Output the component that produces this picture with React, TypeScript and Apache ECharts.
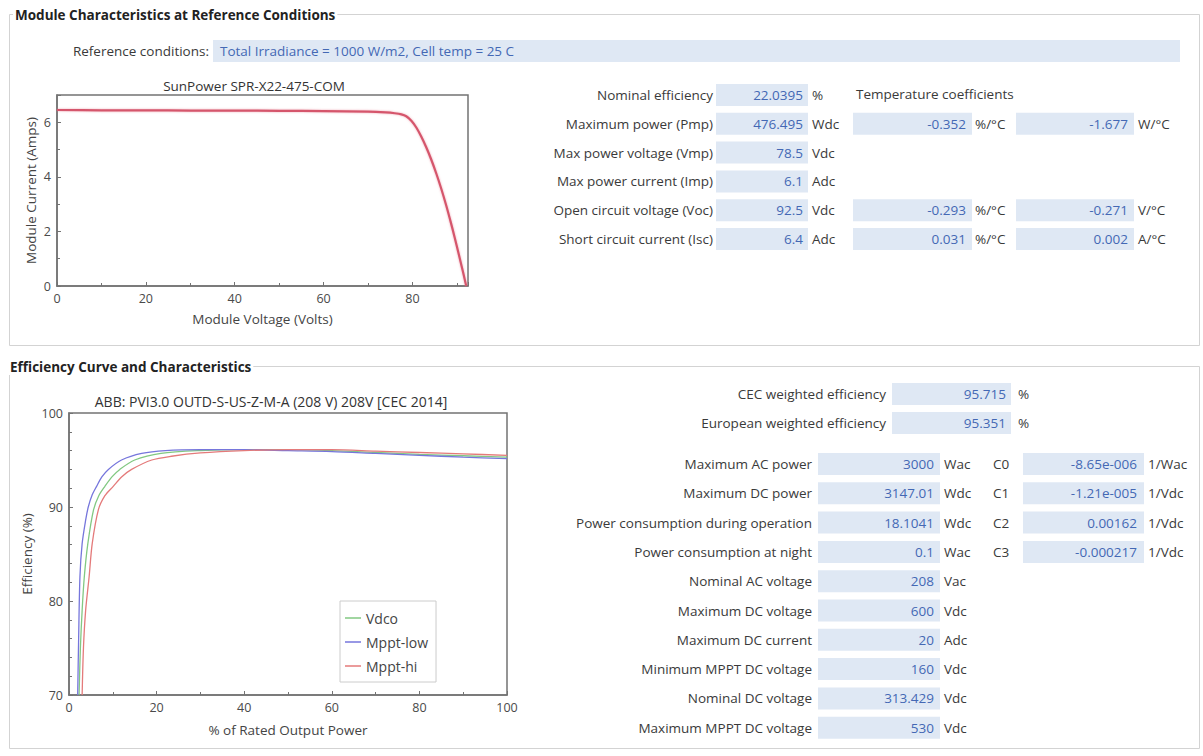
import React, { useEffect, useRef } from "react";
import * as echarts from "echarts";

// ---------- data ----------
const IV_VOLTAGE = [0, 10, 20, 30, 40, 50, 60, 70, 74, 76, 77.5, 78.6, 79.8, 80.9, 82, 83.1, 84.2, 85.4, 86.5, 87.6, 88.6, 89.5, 90.3, 91, 91.6, 92.1];
const IV_CURRENT = [6.45, 6.44, 6.44, 6.43, 6.43, 6.42, 6.41, 6.39, 6.36, 6.33, 6.29, 6.22, 6.05, 5.8, 5.47, 5.085, 4.645, 4.105, 3.555, 2.95, 2.35, 1.78, 1.25, 0.77, 0.36, 0];

const VDCO_X = [2.3, 2.6, 3.0, 3.5, 4.3, 5.6, 6.8, 8.2, 9.8, 11.6, 15, 21, 30, 40, 50, 60, 70, 80, 90, 100];
const VDCO_Y = [70, 75, 79, 82.6, 86.1, 89.7, 91.2, 92.2, 93.2, 94, 95, 95.7, 96.0, 96.1, 96.1, 96.0, 95.8, 95.6, 95.45, 95.3];
const MPPT_LOW_X = [1.98, 2.2, 2.5, 3.0, 3.8, 4.4, 5.3, 6.3, 7.5, 9, 12, 16.6, 22, 30, 40, 50, 60, 70, 80, 90, 100];
const MPPT_LOW_Y = [70, 76, 82.6, 86.1, 88.6, 90, 91.3, 92.2, 93.2, 94, 95, 95.7, 96.0, 96.1, 96.1, 96.0, 95.9, 95.7, 95.5, 95.3, 95.15];
const MPPT_HI_X = [3.0, 3.3, 3.8, 4.6, 5.3, 6.7, 8.2, 10.1, 12, 14.3, 18.9, 23.4, 30, 40, 50, 60, 70, 80, 90, 100];
const MPPT_HI_Y = [70, 75, 79, 82.6, 86.1, 89.7, 91.2, 92.2, 93.2, 94, 95, 95.4, 95.75, 96.0, 96.1, 96.1, 95.95, 95.8, 95.65, 95.5];

const LEGEND_NAMES = ["Vdco", "Mppt-low", "Mppt-hi"];

const MODULE_TITLE = "SunPower SPR-X22-475-COM";
const INVERTER_TITLE = "ABB: PVI3.0 OUTD-S-US-Z-M-A (208 V) 208V [CEC 2014]";

const TOP_LABELS = [
  "Nominal efficiency",
  "Maximum power (Pmp)",
  "Max power voltage (Vmp)",
  "Max power current (Imp)",
  "Open circuit voltage (Voc)",
  "Short circuit current (Isc)",
];
const TOP_VALUES = ["22.0395", "476.495", "78.5", "6.1", "92.5", "6.4"];
const TOP_UNITS = ["%", "Wdc", "Vdc", "Adc", "Vdc", "Adc"];
const TEMP_PCT = ["", "-0.352", "", "", "-0.293", "0.031"];
const TEMP_ABS = ["", "-1.677", "", "", "-0.271", "0.002"];
const TEMP_ABS_UNITS = ["", "W/°C", "", "", "V/°C", "A/°C"];

const WEIGHTED_LABELS = ["CEC weighted efficiency", "European weighted efficiency"];
const WEIGHTED_VALUES = ["95.715", "95.351"];

const INV_LABELS = [
  "Maximum AC power",
  "Maximum DC power",
  "Power consumption during operation",
  "Power consumption at night",
  "Nominal AC voltage",
  "Maximum DC voltage",
  "Maximum DC current",
  "Minimum MPPT DC voltage",
  "Nominal DC voltage",
  "Maximum MPPT DC voltage",
];
const INV_VALUES = ["3000", "3147.01", "18.1041", "0.1", "208", "600", "20", "160", "313.429", "530"];
const INV_UNITS = ["Wac", "Wdc", "Wdc", "Wac", "Vac", "Vdc", "Adc", "Vdc", "Vdc", "Vdc"];
const COEF_LABELS = ["C0", "C1", "C2", "C3"];
const COEF_VALUES = ["-8.65e-006", "-1.21e-005", "0.00162", "-0.000217"];
const COEF_UNITS = ["1/Wac", "1/Vdc", "1/Vdc", "1/Vdc"];

// ---------- styles ----------
const FONT = '"Open Sans", "Noto Sans", sans-serif';
const FS = 13.5;
const LABEL_COLOR = "#3a3a3a";
const VALUE_COLOR = "#4468b4";
const BOX_FILL = "#dfe8f4";
const BORDER = "#d3d3d3";
const AXIS = "#737373";

const zip = (xs: number[], ys: number[]) => xs.map((x, i) => [x, ys[i]]);

function txt(x: number, y: number, text: string, opt: any = {}) {
  const align = opt.align || "left";
  return {
    type: "text",
    x,
    y,
    silent: true,
    z: 10,
    style: {
      text,
      fill: opt.color || LABEL_COLOR,
      font: opt.font || `${FS}px ${FONT}`,
      align,
      textAlign: align,
      verticalAlign: "middle",
      textVerticalAlign: "middle",
      backgroundColor: opt.bg,
      padding: opt.padding,
    },
  };
}
function box(x: number, y: number, w: number, h: number) {
  return { type: "rect", silent: true, z: 5, shape: { x, y: y - h / 2, width: w, height: h }, style: { fill: BOX_FILL } };
}
function rectBorder(x: number, y: number, w: number, h: number) {
  return { type: "rect", silent: true, z: 1, shape: { x, y, width: w, height: h }, style: { fill: "none", stroke: BORDER, lineWidth: 1 } };
}

function buildGraphics() {
  const boxes: any[] = [];
  const texts: any[] = [];
  // group boxes
  boxes.push(rectBorder(9.5, 14.5, 1190, 331));
  texts.push(txt(13, 15, "Module Characteristics at Reference Conditions", { font: `bold ${FS}px ${FONT}`, color: "#222", bg: "#fff", padding: [1, 2] }));
  boxes.push(rectBorder(9.5, 366.5, 1190, 382));
  texts.push(txt(8, 367, "Efficiency Curve and Characteristics", { font: `bold ${FS}px ${FONT}`, color: "#222", bg: "#fff", padding: [1, 2] }));

  // reference conditions
  texts.push(txt(209, 51, "Reference conditions:", { align: "right" }));
  boxes.push(box(213, 51, 967, 22));
  texts.push(txt(220, 51, "Total Irradiance = 1000 W/m2, Cell temp = 25 C", { color: VALUE_COLOR }));

  // top table
  TOP_LABELS.forEach((label, i) => {
    const y = 95 + i * 28.8;
    texts.push(txt(713, y, label, { align: "right" }));
    boxes.push(box(716, y, 92, 22));
    texts.push(txt(803, y, TOP_VALUES[i], { align: "right", color: VALUE_COLOR }));
    texts.push(txt(812, y, TOP_UNITS[i]));
    if (TEMP_PCT[i]) {
      boxes.push(box(853, y, 119, 22));
      texts.push(txt(966, y, TEMP_PCT[i], { align: "right", color: VALUE_COLOR }));
      texts.push(txt(975, y, "%/°C"));
      boxes.push(box(1016, y, 118, 22));
      texts.push(txt(1128, y, TEMP_ABS[i], { align: "right", color: VALUE_COLOR }));
      texts.push(txt(1138, y, TEMP_ABS_UNITS[i]));
    }
  });
  texts.push(txt(856, 94, "Temperature coefficients"));

  // weighted efficiencies
  WEIGHTED_LABELS.forEach((label, i) => {
    const y = 394 + i * 29;
    texts.push(txt(886, y, label, { align: "right" }));
    boxes.push(box(892, y, 119, 22));
    texts.push(txt(1006, y, WEIGHTED_VALUES[i], { align: "right", color: VALUE_COLOR }));
    texts.push(txt(1018, y, "%"));
  });

  // inverter table
  INV_LABELS.forEach((label, i) => {
    const y = 464 + i * 29.3;
    texts.push(txt(812, y, label, { align: "right" }));
    boxes.push(box(818, y, 122, 22));
    texts.push(txt(934, y, INV_VALUES[i], { align: "right", color: VALUE_COLOR }));
    texts.push(txt(944, y, INV_UNITS[i]));
    if (i < COEF_LABELS.length) {
      texts.push(txt(993, y, COEF_LABELS[i]));
      boxes.push(box(1023, y, 121, 22));
      texts.push(txt(1137, y, COEF_VALUES[i], { align: "right", color: VALUE_COLOR }));
      texts.push(txt(1148, y, COEF_UNITS[i]));
    }
  });
  return [...boxes, ...texts];
}

const axisCommon = {
  axisLine: { show: true, lineStyle: { color: AXIS, width: 1.5 } },
  axisTick: { show: true, inside: true, length: 4, lineStyle: { color: AXIS } },
  splitLine: { show: false },
  axisLabel: { color: "#4a4a4a", fontSize: 12.5, fontFamily: FONT, margin: 6 },
  nameTextStyle: { color: "#444", fontSize: FS, fontFamily: FONT },
  nameLocation: "middle",
};

export default function App() {
  const ref = useRef<HTMLDivElement>(null);
  useEffect(() => {
    if (!ref.current) return;
    const chart = echarts.init(ref.current, undefined, { renderer: "svg" });
    const option: any = {
      animation: false,
      backgroundColor: "#fff",
      title: [
        { text: MODULE_TITLE, left: 249, top: 74, textAlign: "center", textStyle: { fontSize: FS, fontWeight: "normal", color: "#333", fontFamily: FONT } },
        { text: INVERTER_TITLE, left: 266, top: 389, textAlign: "center", textStyle: { fontSize: 14, fontWeight: "normal", color: "#333", fontFamily: FONT } },
      ],
      grid: [
        { left: 57, top: 95, width: 411, height: 191, show: true, borderColor: AXIS, borderWidth: 1.5, backgroundColor: "#fff" },
        { left: 69, top: 413, width: 438, height: 282, show: true, borderColor: AXIS, borderWidth: 1.5, backgroundColor: "#fff" },
      ],
      xAxis: [
        {
          ...axisCommon,
          type: "value", gridIndex: 0, min: 0, max: 92.5, interval: 20,
          minorTick: { show: true, splitNumber: 2, length: 3, lineStyle: { color: AXIS } },
          axisLabel: { ...axisCommon.axisLabel, formatter: (v: number) => (v % 20 === 0 ? String(v) : "") },
          name: "Module Voltage (Volts)", nameGap: 26,
        },
        {
          ...axisCommon,
          type: "value", gridIndex: 1, min: 0, max: 100, interval: 20,
          minorTick: { show: true, splitNumber: 2, length: 3, lineStyle: { color: AXIS } },
          name: "% of Rated Output Power", nameGap: 28,
        },
      ],
      yAxis: [
        {
          ...axisCommon,
          type: "value", gridIndex: 0, min: 0, max: 7, interval: 2,
          minorTick: { show: true, splitNumber: 2, length: 3, lineStyle: { color: AXIS } },
          axisLabel: { ...axisCommon.axisLabel, formatter: (v: number) => (v % 2 === 0 ? String(v) : "") },
          name: "Module Current (Amps)", nameGap: 19,
        },
        {
          ...axisCommon,
          type: "value", gridIndex: 1, min: 70, max: 100, interval: 10,
          minorTick: { show: true, splitNumber: 5, length: 3, lineStyle: { color: AXIS } },
          name: "Efficiency (%)", nameGap: 35,
        },
      ],
      legend: {
        orient: "vertical",
        left: 340,
        top: 601,
        data: LEGEND_NAMES,
        icon: "rect",
        borderColor: "#cccccc",
        borderWidth: 1,
        padding: [10, 8, 9, 5],
        itemGap: 10,
        itemWidth: 16,
        itemHeight: 1.5,
        textStyle: { fontSize: 14, color: "#444", fontFamily: FONT },
        backgroundColor: "#fff",
      },
      graphic: buildGraphics(),
      series: [
        {
          name: "I-V", type: "line", xAxisIndex: 0, yAxisIndex: 0, symbol: "none", smooth: 0.3,
          data: zip(IV_VOLTAGE, IV_CURRENT),
          lineStyle: { color: "#d5566c", width: 2.2, shadowColor: "rgba(230,120,140,0.6)", shadowBlur: 2 },
        },
        {
          name: "Vdco", type: "line", xAxisIndex: 1, yAxisIndex: 1, symbol: "none", smooth: 0.3,
          data: zip(VDCO_X, VDCO_Y), color: "#82c882", lineStyle: { width: 1.3 },
        },
        {
          name: "Mppt-low", type: "line", xAxisIndex: 1, yAxisIndex: 1, symbol: "none", smooth: 0.3,
          data: zip(MPPT_LOW_X, MPPT_LOW_Y), color: "#7676dc", lineStyle: { width: 1.3 },
        },
        {
          name: "Mppt-hi", type: "line", xAxisIndex: 1, yAxisIndex: 1, symbol: "none", smooth: 0.3,
          data: zip(MPPT_HI_X, MPPT_HI_Y), color: "#e47a7a", lineStyle: { width: 1.3 },
        },
      ],
    };
    chart.setOption(option);
    return () => chart.dispose();
  }, []);
  return <div ref={ref} style={{ position: "absolute", left: 0, top: 0, width: 1203, height: 756 }} />;
}
